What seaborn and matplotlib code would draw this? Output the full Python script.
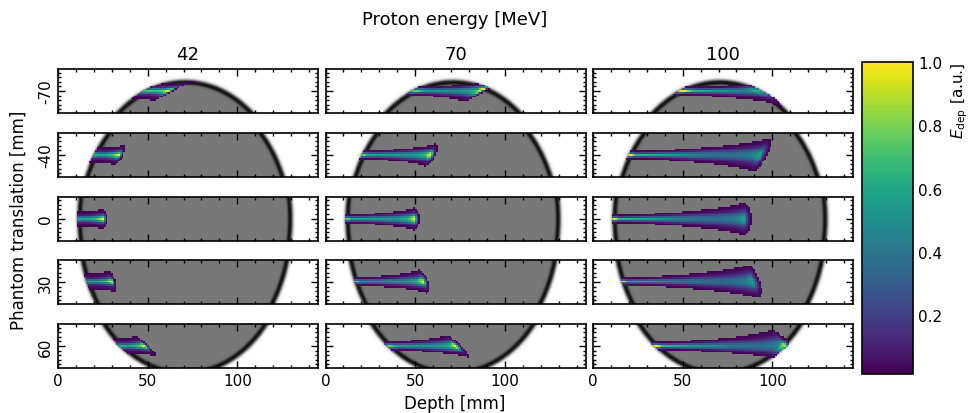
import numpy as np
import matplotlib
matplotlib.use("Agg")
import matplotlib.pyplot as plt
import seaborn as sns
from matplotlib.ticker import MultipleLocator

# chart values
energies = [42, 70, 100]                 # proton energy [MeV], one column each
translations = [-70, -40, 0, 30, 60]     # phantom translation [mm], one row each

# elliptical phantom (depth / lateral, mm)
phantom_center = [70.8, 0.0]
phantom_semi_axes = [60.0, 76.0]
shell_thickness = 2.4
phantom_gray = 0.47

# beam parameters per energy
bragg_depth = [14.0, 38.0, 73.0]
bragg_offset = [1.8, 1.5, 3.0]
core_sigma_start = [0.8, 0.7, 0.6]
core_sigma_end = [1.1, 1.6, 2.8]
halo_sigma_start = [2.0, 1.1, 1.1]
halo_sigma_end = [2.4, 2.6, 4.0]
halo_weight = [0.6, 0.45, 0.4]
shell_boost = [0.2, 0.45, 0.6]

half_height = 12
depth_max = 145
dose_min = 0.015

cbar_ticks = [0.2, 0.4, 0.6, 0.8, 1.0]


def sigmoid(z):
    return 1.0 / (1.0 + np.exp(-z))


def inside_distance(X, Y):
    u = (X - phantom_center[0]) / phantom_semi_axes[0]
    v = (Y - phantom_center[1]) / phantom_semi_axes[1]
    r = np.sqrt(u ** 2 + v ** 2) + 1e-9
    grad = np.sqrt((u / phantom_semi_axes[0]) ** 2 + (v / phantom_semi_axes[1]) ** 2) / r
    return (1 - r) / grad


def phantom_image(t):
    x = np.arange(0, depth_max + 0.01, 0.5)
    y = np.arange(t - half_height - 0.5, t + half_height + 0.51, 0.5)
    X, Y = np.meshgrid(x, y)
    dist = inside_distance(X, Y)
    outer = sigmoid(dist / 0.45)
    inner = sigmoid((dist - shell_thickness) / 0.35)
    img = 1 - outer + phantom_gray * inner
    extent = [x[0] - 0.25, x[-1] + 0.25, y[-1] + 0.25, y[0] - 0.25]
    return img, extent


def dose_image(k, t):
    x = np.arange(0, depth_max + 1)
    y = np.arange(t - half_height - 1, t + half_height + 2)
    X, Y = np.meshgrid(x, y)
    v = (Y - phantom_center[1]) / phantom_semi_axes[1]
    entry = phantom_center[0] - phantom_semi_axes[0] * np.sqrt(np.clip(1 - v ** 2, 0, None))
    d = X - entry
    R = bragg_depth[k]
    dc = np.clip(d, 0, R)
    bragg = (R - dc + bragg_offset[k]) ** -0.44
    fall = 0.8 + 0.012 * R
    bragg = bragg * np.exp(-np.clip(d - R, 0, None) ** 2 / (2 * fall ** 2))
    frac = dc / R
    sc = core_sigma_start[k] + (core_sigma_end[k] - core_sigma_start[k]) * frac ** 2
    sh = halo_sigma_start[k] + (halo_sigma_end[k] - halo_sigma_start[k]) * frac ** 1.7
    lat = Y - t
    prof = (np.exp(-lat ** 2 / (2 * sc ** 2)) / sc
            + halo_weight[k] * np.exp(-lat ** 2 / (2 * sh ** 2)) / sh)
    dist = inside_distance(X, Y)
    shell = sigmoid(dist / 0.4) - sigmoid((dist - shell_thickness) / 0.4)
    dose = bragg * prof * (1 + shell_boost[k] * shell)
    dose[(np.abs(v) >= 1) | (d < 0) | (dist < -0.3)] = 0
    dose = dose / dose.max()
    extent = [x[0] - 0.5, x[-1] + 0.5, y[-1] + 0.5, y[0] - 0.5]
    return np.ma.masked_less(dose, dose_min), extent


sns.set_style("ticks")
plt.rcParams["font.family"] = ["DejaVu Sans"]
for key in ["text.color", "axes.labelcolor", "xtick.color", "ytick.color", "axes.edgecolor"]:
    plt.rcParams[key] = "black"

fig = plt.figure(figsize=(9.68, 4.14), dpi=100)
W, H = 968, 414
col_left = [58, 325.5, 593]
col_width = 260
row_top = [70, 134, 197.5, 261, 325]
row_height = 44

cmap = sns.color_palette("viridis", as_cmap=True)
im = None
for i, t in enumerate(translations):
    for k, e in enumerate(energies):
        ax = fig.add_axes([col_left[k] / W, 1 - (row_top[i] + row_height) / H,
                           col_width / W, row_height / H])
        img, ext = phantom_image(t)
        ax.imshow(img, cmap="gray", vmin=0, vmax=1, extent=ext,
                  interpolation="bilinear", aspect="auto")
        dose, ext = dose_image(k, t)
        im = ax.imshow(dose, cmap=cmap, vmin=dose_min, vmax=1, extent=ext,
                       interpolation="nearest", aspect="auto")
        ax.set_xlim(0, depth_max)
        ax.set_ylim(t + half_height, t - half_height)
        ax.xaxis.set_major_locator(MultipleLocator(50))
        ax.xaxis.set_minor_locator(MultipleLocator(10))
        ax.set_yticks([t])
        ax.yaxis.set_minor_locator(MultipleLocator(2.5))
        ax.tick_params(which="both", direction="in", top=True, right=True,
                       labelsize=11, width=1)
        ax.tick_params(which="major", length=5)
        ax.tick_params(which="minor", length=2.5)
        for sp in ax.spines.values():
            sp.set_linewidth(1.2)
        if k == 0:
            ax.set_yticklabels([str(t)], rotation=90, va="center")
        else:
            ax.set_yticklabels([])
        if i < len(translations) - 1:
            ax.set_xticklabels([])
        if i == 0:
            ax.set_title(str(e), fontsize=13, pad=7)

cax = fig.add_axes([862 / W, 1 - 375 / H, 51 / W, 312 / H])
cb = fig.colorbar(im, cax=cax)
cb.set_ticks(cbar_ticks)
cb.ax.yaxis.set_minor_locator(MultipleLocator(0.05))
cb.ax.tick_params(which="both", direction="in", labelsize=11)
cb.ax.tick_params(which="major", length=5)
cb.ax.tick_params(which="minor", length=2.5)
cb.outline.set_linewidth(1.2)
cb.set_label(r"$E_{\mathrm{dep}}$ [a.u.]", fontsize=11, loc="top", labelpad=5)

fig.text(455 / W, 1 - 20 / H, "Proton energy [MeV]", ha="center", va="center", fontsize=13)
fig.text(455 / W, 1 - 404 / H, "Depth [mm]", ha="center", va="center", fontsize=12)
fig.text(19 / W, 1 - 220 / H, "Phantom translation [mm]", ha="center", va="center",
         rotation=90, fontsize=12)

fig.savefig("out.png", dpi=100)
